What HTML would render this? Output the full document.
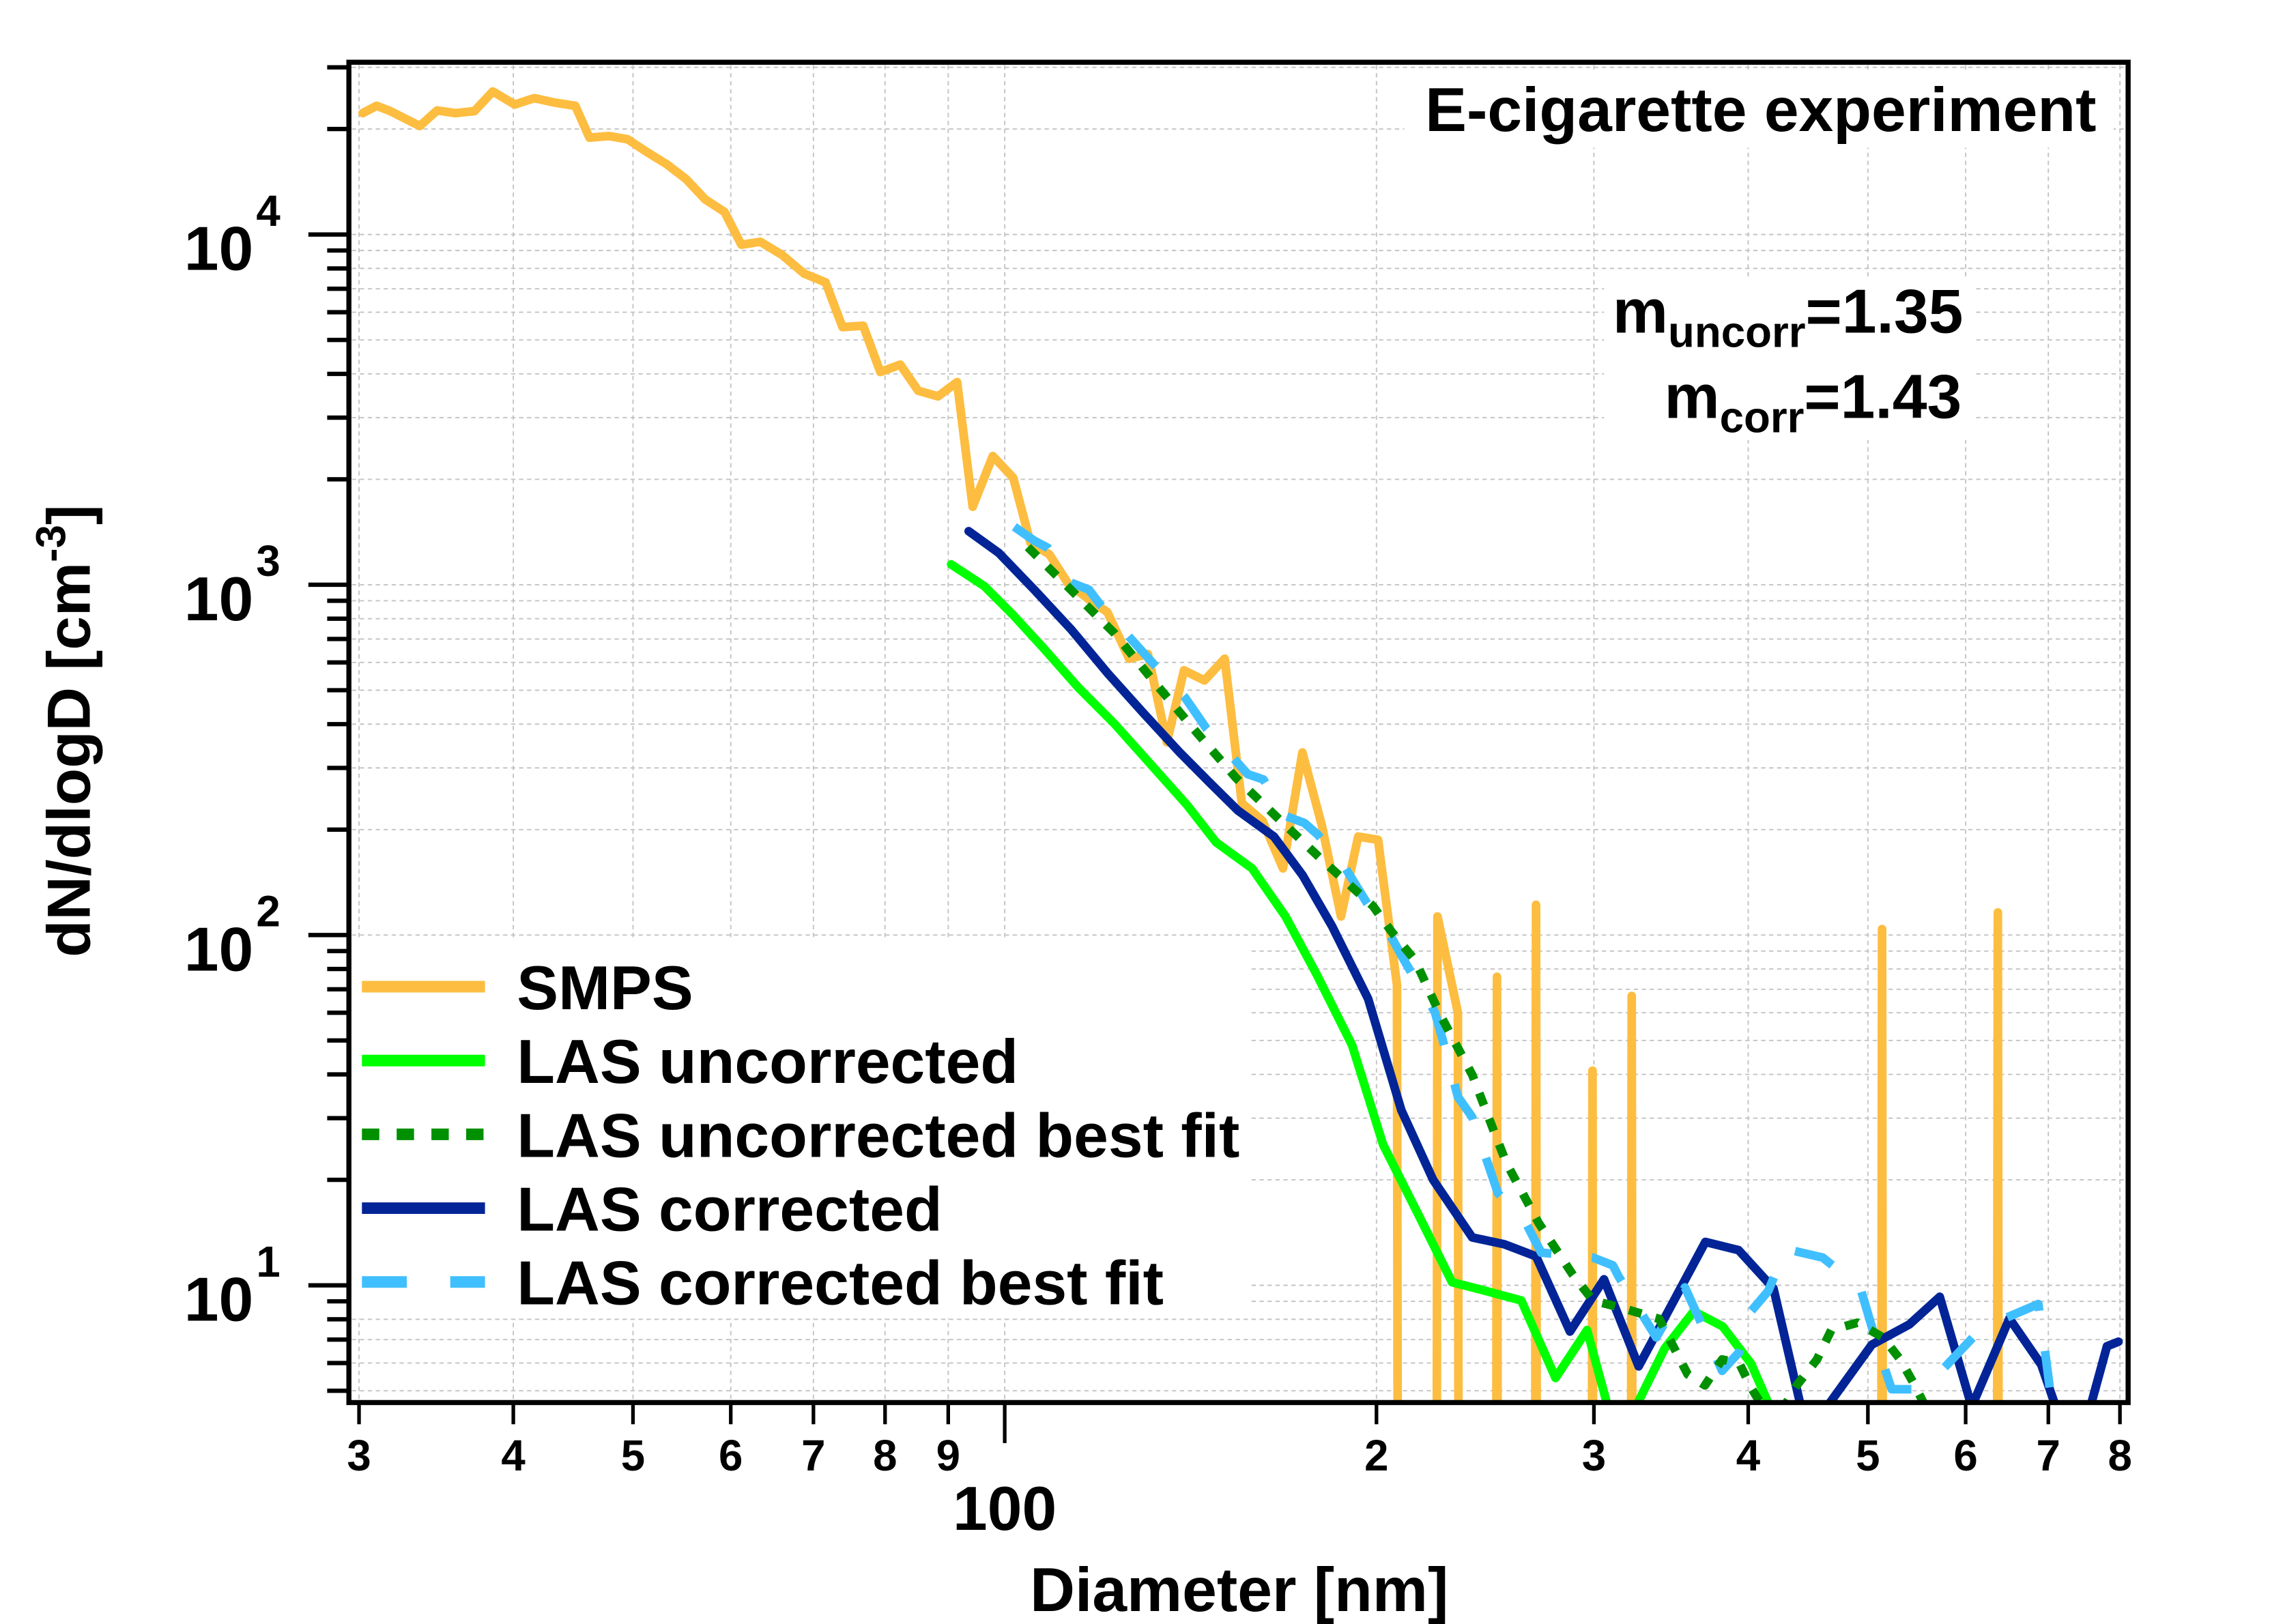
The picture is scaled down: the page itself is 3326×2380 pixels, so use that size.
<!DOCTYPE html>
<html><head><meta charset="utf-8"><style>
html,body{margin:0;padding:0;background:#fff;overflow:hidden;width:3326px;height:2380px;}
svg{display:block;}
text{font-family:"Liberation Sans",Arial,sans-serif;font-weight:bold;fill:#000;}
</style></head><body>
<svg id="chart" width="3326" height="2380" viewBox="0 0 1568 1122" preserveAspectRatio="none" xmlns="http://www.w3.org/2000/svg">
<defs><clipPath id="plotclip"><rect x="241" y="43" width="1229" height="926"/></clipPath></defs>
<rect x="0" y="0" width="1568" height="1122" fill="#fff"/>
<g id="grid"></g>
<rect x="243" y="648" width="619" height="263" fill="#fff"/>
<rect x="970" y="50" width="490" height="52" fill="#fff"/>
<rect x="1108" y="192" width="256" height="112" fill="#fff"/>
<g id="series" clip-path="url(#plotclip)"></g>
<g id="axes"></g>
<text x="1448" y="90.5" font-size="43" text-anchor="end">E-cigarette experiment</text>
<text x="1356" y="229.8" font-size="43" text-anchor="end">m<tspan font-size="30" dy="10">uncorr</tspan><tspan dy="-10">=1.35</tspan></text>
<text x="1355" y="288.7" font-size="43" text-anchor="end">m<tspan font-size="30" dy="10">corr</tspan><tspan dy="-10">=1.43</tspan></text>
<text x="856" y="1113" font-size="43" text-anchor="middle">Diameter [nm]</text>
<text transform="translate(62,505) rotate(-90)" font-size="42" text-anchor="middle">dN/dlogD [cm<tspan font-size="29" dy="-17">-3</tspan><tspan dy="17">]</tspan></text>
<g id="legend"></g>
</svg>
<script>
// ---- data ----
const smpsD = [30.2,31.0,31.8,33.6,34.7,35.9,37.2,38.5,40.1,41.6,43.2,44.9,46.1,47.8,49.5,51.3,53.2,55.2,57.2,59.3,61.2,63.4,66.0,68.8,71.6,73.9,76.8,79.3,82.3,85.1,88.3,91.5,94.2,97.8,101.6,104.9,108.7,112.5,116.9,121.1,126.1,130.6,135.3,139.7,145.1,150.7,155.6,161.7,168.0,174.2,180.6,187.2,193.3,200.6,207.8,216.4,224.1,232.8,241.1,250.4,259.3,269.3,278.9,288.9,299.2,310.7,321.9,333.4,495.7,513.4,531.8,615,637.1,659.9];
const smpsV = [22200,23300,22500,20400,22600,22200,22500,25600,23500,24500,23800,23300,18900,19100,18700,17200,15900,14400,12600,11600,9350,9530,8750,7730,7300,5440,5490,4050,4250,3580,3450,3790,1670,2330,2020,1320,1220,1010,910,835,615,634,355,570,533,615,238,212,155,332,206,113,191,187,72,0,113,60,0,76,0,122,0,0,41,0,67,0,0,104,0,0,116,0];
const lasUncD = [90.5,96.3,101.6,107.3,114.7,122.7,131.3,140.5,148.3,158.6,168.8,179.1,191.1,202.5,215.9,230.3,243.0,262.0,279.3,296.2,310.7,324.4,342.3,361.4,381.4,402.1,422.6];
const lasUncV = [1143,990,819,664,509,401,307,235,184,155,113,76.6,48.5,25.2,16.1,10.2,9.72,9.05,5.44,7.45,4.0,4.5,6.60,8.43,7.63,5.98,4.0];
const fitUncD = [104.4,112.0,122.7,132.5,143.0,153.9,166.8,182.0,198.7,205.8,214.9,225.4,239.1,249.5,254.9,270.5,288.5,299.5,315.9,338.8,357.3,369.0,381.0,393.4,402.1,419.3,437.9,454.7,467.0,490.2,514.3,531.1,545.7,556.7];
const fitUncV = [1281,1002,727,522,379,281,214,160,121,102,84.8,58.9,39.9,27.0,22.3,15.1,10.7,9.05,8.62,8.02,5.57,5.18,6.14,5.99,5.11,4.0,5.18,6.14,7.45,7.82,7.10,6.14,5.18,4.5];
const lasCorD = [93.5,98.9,105.8,113.2,121.1,129.6,138.6,146.3,154.4,165.2,174.3,184.1,196.9,209.5,222.3,239.1,253.8,269.3,286.9,305.7,326.1,369.3,392.9,419.3,441.3,463.3,503.7,540.2,571.7,606.8,651.0,690.9,709.8,757.1,780.9,797.8];
const lasCorV = [1422,1233,963,745,560,429,332,274,227,191,148,106,65.8,31.6,20.0,13.7,13.1,12.1,7.38,10.4,5.87,13.3,12.6,9.8,4.5,4.5,6.77,7.73,9.27,4.5,8.04,5.93,4.5,4.5,6.70,6.90];
const fitCorD = [101.8,105.7,108.4,113.2,117.0,119.6,132.5,140.0,145.7,153.3,157.3,162.0,168.6,174.8,179.4,188.8,196.6,205.4,211.4,223.0,226.7,232.8,239.1,245.6,250.9,264.7,271.9,299.5,310.8,314.1,337.0,355.5,365.1,381.0,393.4,402.1,415.2,428.8,459.6,492.9,503.4,514.3,522.7,545.7,575.6,610.3,644.0,687.1,694.3,701.8];
const fitCorV = [1464,1335,1274,1013,968,874,585,476,388,319,288,278,219,209,193,155,123,99.3,82.7,60.3,49.0,34.5,30.2,22.8,18.3,14.9,12.4,12.0,11.4,10.6,7.10,9.86,8.02,5.70,6.45,8.43,9.63,12.7,12.0,9.86,7.66,5.99,5.05,5.05,5.78,7.19,8.02,8.84,6.84,5.11];
const xMinorTicks = [30,40,50,60,70,80,90,100,200,300,400,500,600,700,800];
const xTickLabels = ["3","4","5","6","7","8","9","","2","3","4","5","6","7","8"];
const yMajorTicks = [10,100,1000,10000];
const yMajorExp = ["1","2","3","4"];
const legendLabels = ["SMPS","LAS uncorrected","LAS uncorrected best fit","LAS corrected","LAS corrected best fit"];

// ---- axis functions ----
const NS = "http://www.w3.org/2000/svg";
function xs(d){ return 248 + 853*Math.log10(d/30); }
function ys(v){ if(!(v>0)) v = 1e-40; return 888 - 242*Math.log10(v/10); }
const YMIN = 4.63, YMAX = 31000;
const YCUT = 975;
function mk(tag, attrs, parent){
  const el = document.createElementNS(NS, tag);
  for (const k in attrs) el.setAttribute(k, attrs[k]);
  parent.appendChild(el);
  return el;
}
const grid = document.getElementById('grid');
const axes = document.getElementById('axes');
const series = document.getElementById('series');
const legend = document.getElementById('legend');

// grid
xMinorTicks.forEach(function(d){
  const l = mk('line',{x1:xs(d),x2:xs(d),y1:45,y2:967,stroke:'#c4c4c4','stroke-width':0.9,'stroke-dasharray':'3 2.5'},grid);
  
  
});
const yMinor = [];
for (let k=0;k<=4;k++){ for (let m=1;m<=9;m++){ const v=m*Math.pow(10,k); if(v>=YMIN && v<=YMAX) yMinor.push(v);} }
yMinor.forEach(function(v){
  const l = mk('line',{x1:243,x2:1468,y1:ys(v),y2:ys(v),stroke:'#c4c4c4','stroke-width':0.9,'stroke-dasharray':'3 2.5'},grid);
  
  
});

// series: segments clipped against bottom cut line
function drawLine(D, V, color, dash, name){
  const pts = D.map(function(d,i){ return [xs(d), ys(V[i])]; });
  let d = '';
  let penDown = false;
  for (let i=1;i<pts.length;i++){
    const p = pts[i-1], q = pts[i];
    if (p[1] > YCUT && q[1] > YCUT){ penDown = false; continue; }
    let a = p, b = q;
    if (p[1] > YCUT){ const t = (YCUT - q[1])/(p[1]-q[1]); a = [q[0] + t*(p[0]-q[0]), YCUT]; penDown = false; }
    if (q[1] > YCUT){ const t = (YCUT - p[1])/(q[1]-p[1]); b = [p[0] + t*(q[0]-p[0]), YCUT]; }
    if (!penDown){ d += 'M' + a[0].toFixed(2) + ',' + a[1].toFixed(2); }
    d += 'L' + b[0].toFixed(2) + ',' + b[1].toFixed(2);
    penDown = q[1] <= YCUT;
  }
  const attrs = {d:d, fill:'none', stroke:color, 'stroke-width':6, 'stroke-linejoin':'round', 'stroke-linecap': dash ? 'butt' : 'round'};
  if (dash) attrs['stroke-dasharray'] = dash;
  const p = mk('path', attrs, series);
  
  
}
drawLine(smpsD, smpsV, '#FDBD40', null, 'smps-line');
drawLine(lasUncD, lasUncV, '#00FF00', null, 'las-uncorrected-line');
drawLine(lasCorD, lasCorV, '#022497', null, 'las-corrected-line');
drawLine(fitCorD, fitCorV, '#40BFFF', '28 28', 'las-corrected-fit-line');
drawLine(fitUncD, fitUncV, '#009000', '9 10', 'las-uncorrected-fit-line');

// frame
const frame = mk('rect',{x:241,y:43,width:1229,height:926,fill:'none',stroke:'#000','stroke-width':3.5},axes);



// x ticks
xMinorTicks.forEach(function(d,i){
  const x = xs(d);
  const t = mk('line',{x1:x,x2:x,y1:969,y2:(d===100?997:984),stroke:'#000','stroke-width':2.5},axes);
  
  
  if (xTickLabels[i]){
    const tx = mk('text',{x:x,y:1016,'font-size':30,'text-anchor':'middle'},axes);
    tx.textContent = xTickLabels[i];
    
    
  }
});
const hundred = mk('text',{x:xs(100),y:1057,'font-size':43,'text-anchor':'middle'},axes);
hundred.textContent = '100';



// y ticks
yMinor.forEach(function(v){
  const isMajor = yMajorTicks.indexOf(v) >= 0;
  const t = mk('line',{x1:isMajor?213:226,x2:241,y1:ys(v),y2:ys(v),stroke:'#000','stroke-width':3},axes);
  
  
});
yMajorTicks.forEach(function(v,i){
  const y = ys(v);
  const tx = mk('text',{x:175,y:y+24.5,'font-size':43,'text-anchor':'end'},axes);
  tx.textContent = '10';
  
  
  const sp = mk('text',{x:177,y:y-6,'font-size':30,'text-anchor':'start'},axes);
  sp.textContent = yMajorExp[i];
  
  
});

// legend
const legColors = ['#FDBD40','#00FF00','#009000','#022497','#40BFFF'];
const legDash = [null,null,'12 12','','31 30'];
legendLabels.forEach(function(lab,i){
  const y = 681.7 + i*51;
  const a = {x1:250,x2:335,y1:y,y2:y,stroke:legColors[i],'stroke-width':8};
  if (legDash[i]) a['stroke-dasharray'] = legDash[i];
  const l = mk('line',a,legend);
  
  
  const t = mk('text',{x:357,y:y+15.5,'font-size':43},legend);
  t.textContent = lab;
  
  
});
</script>
</body></html>
